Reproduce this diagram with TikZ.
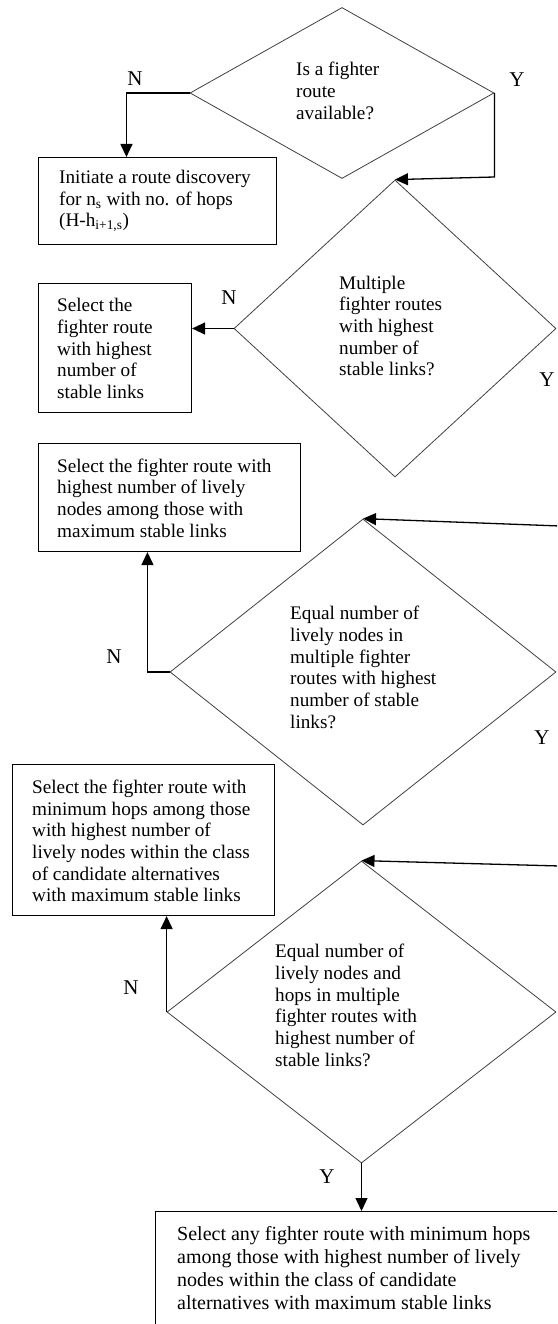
\documentclass[tikz,border=0pt]{standalone}
\usepackage{fontspec}
\setmainfont{Liberation Serif}
\usetikzlibrary{shapes.geometric,arrows.meta,calc}
\begin{document}
\begin{tikzpicture}[x=1pt,y=-1pt,
  dia/.style={draw=black!75, line width=0.8pt, shape=diamond, inner sep=0pt},
  box/.style={draw=black, line width=1.1pt, inner sep=0pt, anchor=north west},
  txt/.style={inner sep=0pt, align=left, anchor=west, font=\fontsize{19.2}{21.7}\selectfont},
  bigtxt/.style={txt, font=\fontsize{20}{22.8}\selectfont},
  lab/.style={inner sep=0pt, font=\fontsize{21}{23}\selectfont},
  arr/.style={line width=1.3pt, -{Triangle[length=13pt,width=12pt]}},
]
\useasboundingbox (0,0) rectangle (557,1324);
\clip (0,0) rectangle (557,1324);

% decision 1
\node[dia, minimum width=304pt, minimum height=171pt] (d1) at (342,93) {};
\node[txt] (t1) at (296,91) {Is a fighter\\route\\available?};
% box 1
\node[box, minimum width=238pt, minimum height=87pt] (b1) at (38,157) {};
\node[txt] (tb1) at (59,201) {Initiate a route discovery\\for n\textsubscript{s} with no. of hops\\(H-h\textsubscript{i+1,s})};

% decision 2
\node[dia, minimum width=322pt, minimum height=297pt] (d2) at (395,328.5) {};
\node[txt] (t2) at (339,326) {Multiple\\fighter routes\\with highest\\number of\\stable links?};
% box 2
\node[box, minimum width=153pt, minimum height=129pt] (b2) at (38,283) {};
\node[txt] (tb2) at (57,348.5) {Select the\\fighter route\\with highest\\number of\\stable links};

% box 3
\node[box, minimum width=262pt, minimum height=108pt] (b3) at (38,443) {};
\node[txt] (tb3) at (57,498) {Select the fighter route with\\highest number of lively\\nodes among those with\\maximum stable links};

% decision 3
\node[dia, minimum width=386pt, minimum height=306pt] (d3) at (363,672) {};
\node[txt] (t3) at (290,667.5) {Equal number of\\lively nodes in\\multiple fighter\\routes with highest\\number of stable\\links?};

% box 4
\node[box, minimum width=262pt, minimum height=151pt] (b4) at (12,764) {};
\node[txt] (tb4) at (32,841) {Select the fighter route with\\minimum hops among those\\with highest number of\\lively nodes within the class\\of candidate alternatives\\with maximum stable links};

% decision 4
\node[dia, minimum width=389pt, minimum height=302pt] (d4) at (361.5,1012) {};
\node[txt] (t4) at (275,1005.5) {Equal number of\\lively nodes and\\hops in multiple\\fighter routes with\\highest number of\\stable links?};

% box 5
\node[box, minimum width=450pt, minimum height=140pt] (b5) at (155,1211) {};
\node[bigtxt] (tb5) at (177,1268) {Select any fighter route with minimum hops\\among those with highest number of lively\\nodes within the class of candidate\\alternatives with maximum stable links};

% incoming connectors from the right (cut off)
\coordinate (c3) at (560,526);
\coordinate (c4) at (560,866);

% connectors
\draw[arr] (d1.west) -| ($(b1.north west)!0.37!(b1.north east)$);
\draw[arr] (d1.east) -- ++(0,84) -- (d2.north);
\draw[arr] (d2.west) -- (d2.west -| b2.east);
\draw[arr] (c3) -- (d3.north);
\draw[arr] (d3.west) -| ($(b3.south west)!0.416!(b3.south east)$);
\draw[arr] (c4) -- (d4.north);
\draw[arr] (d4.west) -- (d4.west |- b4.south);
\draw[arr] (d4.south) -- (d4.south |- b5.north);

% labels
\node[lab] (n1) at (135,79) {N};
\node[lab] (y1) at (517,80) {Y};
\node[lab] (n2) at (229,298) {N};
\node[lab] (y2) at (547,380) {Y};
\node[lab] (n3) at (114,657) {N};
\node[lab] (y3) at (542,738) {Y};
\node[lab] (n4) at (131,988) {N};
\node[lab] (y4) at (327,1177) {Y};
\end{tikzpicture}
\end{document}
